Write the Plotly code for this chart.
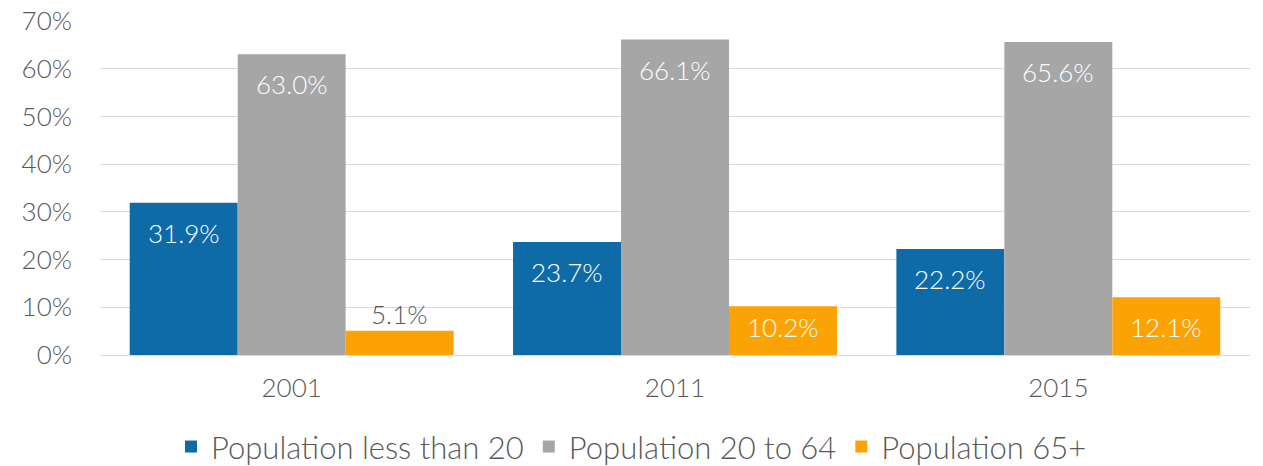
import plotly.graph_objects as go

years = ["2001", "2011", "2015"]
series_names = ["Population less than 20", "Population 20 to 64", "Population 65+"]
under20 = [31.9, 23.7, 22.2]
age20_64 = [63.0, 66.1, 65.6]
over65 = [5.1, 10.2, 12.1]
y_ticks = [0, 10, 20, 30, 40, 50, 60, 70]

colors = ["#0F6BA8", "#A6A6A6", "#FBA304"]
font_family = "Lato, 'Open Sans', sans-serif"
text_grey = "#595959"

bargap = 0.155
bar_w = (1 - bargap) / 3

fig = go.Figure()
annotations = []
for k, (name, vals, col) in enumerate(zip(series_names, [under20, age20_64, over65], colors)):
    fig.add_trace(go.Bar(
        x=years, y=vals, name=name, marker=dict(color=col, line=dict(width=0)),
    ))
    for i, v in enumerate(vals):
        xpos = i + (k - 1) * bar_w
        if v < 8:
            annotations.append(dict(x=xpos, y=v, xref="x", yref="y", text=f"{v:.1f}%",
                                    showarrow=False, yanchor="middle", yshift=17,
                                    font=dict(color=text_grey, size=26, family=font_family, weight=300)))
        else:
            shift = min(30, v * 4.8 - 28)
            annotations.append(dict(x=xpos, y=v, xref="x", yref="y", text=f"{v:.1f}%",
                                    showarrow=False, yanchor="middle", yshift=-shift,
                                    font=dict(color="white", size=26, family=font_family, weight=300)))

fig.update_layout(
    width=1263, height=466,
    barmode="group", bargap=bargap, bargroupgap=0,
    margin=dict(l=100, r=13, t=20, b=111),
    plot_bgcolor="white", paper_bgcolor="white",
    font=dict(family=font_family, size=26, color=text_grey, weight=300),
    annotations=annotations,
    xaxis=dict(showgrid=False, ticks="", tickfont=dict(size=26, color=text_grey),
               showline=True, linecolor="#d9d9d9", linewidth=1, automargin=False,
               ticklabelstandoff=10),
    yaxis=dict(range=[0, 70.2], tickvals=y_ticks, ticktext=[f"{t}%" for t in y_ticks],
               showgrid=True, gridcolor="#d9d9d9", gridwidth=1, zeroline=False,
               tickfont=dict(size=26, color=text_grey), ticks="", automargin=False,
               ticklabelstandoff=27),
    legend=dict(orientation="h", x=0.5, xanchor="center", xref="container",
                y=0.041, yanchor="middle", yref="container",
                font=dict(size=31, color=text_grey), itemwidth=30),
)

fig.write_html("out.html", config={"displayModeBar": False},
               post_script="document.body.style.margin='0';")
